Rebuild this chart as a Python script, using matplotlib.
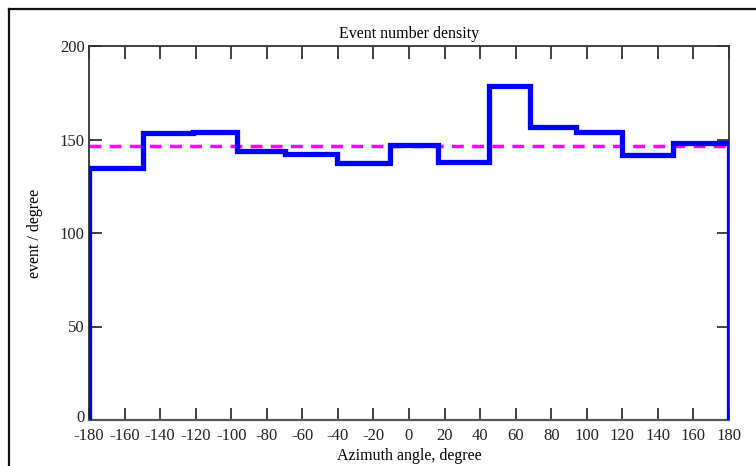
import matplotlib.pyplot as plt
import matplotlib.transforms as mtransforms
from matplotlib.lines import Line2D

# bin edges (degrees) and density per bin
edges = [-180, -149.5, -121.5, -97, -70, -40.7, -10.7, 16.5, 45, 68, 94, 120, 148.3, 180]
density = [135, 153.3, 154, 144, 142.5, 137.6, 147.2, 138.1, 178.8, 156.9, 154.2, 141.7, 148]
mean_density = 146.7

xticks = list(range(-180, 181, 20))
xticklabels = [str(t) for t in xticks]
yticks = [0, 50, 100, 150, 200]

plt.rcParams['font.family'] = ['Liberation Serif', 'DejaVu Serif']

fig = plt.figure(figsize=(7.56, 4.66), dpi=100)
ax = fig.add_axes([89 / 756, 1 - 420 / 466, 640 / 756, 374 / 466])

ax.stairs(density, edges, baseline=0, color='#0000ff', linewidth=3.8, zorder=3)
ax.axhline(mean_density, color='#ff00ff', linewidth=2.5, linestyle=(0, (3.4, 2.4)), zorder=2)

ax.set_xlim(-180, 180)
ax.set_ylim(0, 200)
ax.set_xticks(xticks)
ax.set_xticklabels(xticklabels)
ax.set_yticks(yticks)
ax.tick_params(direction='in', length=9, width=1.2, top=True, right=True,
               labelsize=12, colors='#222222', pad=3)
ax.tick_params(axis='x', pad=6)
for s in ax.spines.values():
    s.set_linewidth(1.3)
    s.set_color('#333333')
ax.spines['bottom'].set_color('#555555')
ax.spines['bottom'].set_linewidth(1.6)

# nudge the "0" y label up a little so it clears the "-180" below it
fig.canvas.draw()
zero_lab = ax.get_yticklabels()[0]
zero_lab.set_transform(zero_lab.get_transform() +
                       mtransforms.ScaledTranslation(0, 4 / 100, fig.dpi_scale_trans))

ax.set_title('Event number density', fontsize=11.5, pad=6)
ax.set_xlabel('Azimuth angle, degree', fontsize=11.5, labelpad=3)
ax.set_ylabel('event / degree', fontsize=11.5, labelpad=12)

# outer frame (left and top edges visible)
fig.add_artist(Line2D([9 / 756, 9 / 756], [0, 1 - 9 / 466], color='#111111', linewidth=1.6))
fig.add_artist(Line2D([9 / 756, 1], [1 - 9 / 466, 1 - 9 / 466], color='#111111', linewidth=1.6))

fig.savefig('out.png', dpi=100)
